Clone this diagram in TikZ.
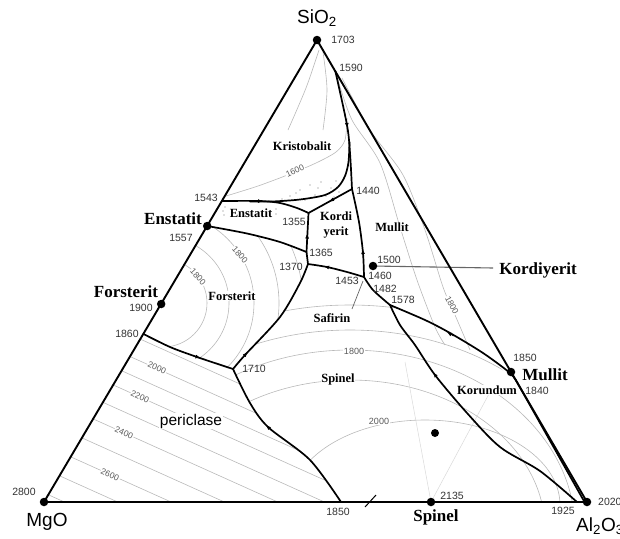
\documentclass[tikz,border=0pt]{standalone}
\usepackage{fontspec}
\setmainfont{Liberation Serif}
\setsansfont{Liberation Sans}
\usetikzlibrary{arrows.meta}

\begin{document}
\begin{tikzpicture}[x=1pt,y=-1pt,
  iso/.style={draw=black!28, line width=0.6pt},
  bnd/.style={draw=black, line width=1.7pt, line join=round, line cap=round},
  tipmark/.style={-{Latex[length=5pt,width=3.8pt]}, line width=0.6pt},
  pdot/.style={circle, fill=black, inner sep=0pt, minimum size=8.5pt},
  bigl/.style={font=\fontsize{17}{20}\selectfont\bfseries, inner sep=0pt},
  fld/.style={font=\fontsize{12.5}{15}\selectfont\bfseries, fill=white, inner sep=0.6pt, align=center},
  tnum/.style={font=\sffamily\fontsize{10.5}{12}\selectfont, text=black!80, inner sep=0pt},
  isolab/.style={font=\sffamily\fontsize{8.5}{10}\selectfont, text=black!65, fill=white, inner sep=0.8pt},
  oxide/.style={font=\sffamily\fontsize{19}{22}\selectfont, inner sep=0pt},
]
\useasboundingbox (0,0) rectangle (620,538);

% ---- corners, invariant points and compounds
\coordinate (SiO2) at (317,40);
\coordinate (MgO) at (44,502);
\coordinate (Al2O3) at (587,502);
\coordinate (p1590) at (335.3,71);
\coordinate (p1440) at (352,189);
\coordinate (p1355) at (308.5,213);
\coordinate (p1365) at (306.5,252);
\coordinate (p1370) at (308,264);
\coordinate (p1460) at (364,277);
\coordinate (p1578) at (390,305);
\coordinate (p1840) at (517.5,383);
\coordinate (p1925) at (577,502);
\coordinate (p1850b) at (341,502);
\coordinate (p1710) at (233,369);
\coordinate (p1860) at (143.5,334);
\coordinate (p1543) at (222,201);
\coordinate (Enst) at (207.2,226);
\coordinate (Fors) at (161.2,304);
\coordinate (Mull) at (511,372);
\coordinate (Spin) at (431,502);
\coordinate (Kord) at (373,266);
\coordinate (Sapp) at (435,433);

% ---- isotherms: periclase field
\begin{scope}
  \clip (p1860) -- (170,347) -- (197,357) -- (p1710) -- (250,403) -- (268,427)
        -- (310,460) -- (p1850b) -- (MgO) -- cycle;
  \foreach \c in {276,298,316,334,356,377,401,425,449,473,497}
    \draw[iso] (0,\c) -- (420,{\c+0.45*420});
\end{scope}

% ---- isotherms: forsterite field
\begin{scope}
  \clip (p1860) -- (Enst) -- (247,233.5) -- (280,242) -- (p1365) -- (p1370)
        -- (300,283) -- (280,317) -- (245,355) -- (p1710) -- (197,357) -- (170,347) -- cycle;
  \foreach \r in {44,66,91,116,140}
    \draw[iso] (163,303) circle [radius=\r pt];
\end{scope}

% ---- isotherms: spinel, sapphirine and corundum fields
\begin{scope}
  \clip (p1710) -- (245,355) -- (280,317) -- (300,283) -- (p1370) -- (327,267)
        -- (347,272) -- (p1460) -- (373,290) -- (p1578) -- (425,320) -- (450,333)
        -- (483,353) -- (p1840) -- (Al2O3) -- (p1850b) -- (310,460) -- (268,427)
        -- (250,403) -- cycle;
  \draw[iso] (350,530) ellipse [x radius=195pt, y radius=150pt];
  \draw[iso] (350,530) ellipse [x radius=225pt, y radius=180pt];
  \draw[iso] (350,530) ellipse [x radius=255pt, y radius=200pt];
  \draw[iso] (350,530) ellipse [x radius=285pt, y radius=225pt];
  \draw[iso] (425,505) ellipse [x radius=135pt, y radius=85pt];
  \draw[draw=black!15, line width=0.5pt] (Spin) -- (405,362);
  \draw[draw=black!15, line width=0.5pt] (Spin) -- (490,392);
\end{scope}

% ---- isotherms: silica and mullite fields
\draw[iso] plot[smooth] coordinates {(226,196) (258,186) (290,174) (316,163) (336,152) (345,140) (347,118)};
\draw[iso] plot[smooth] coordinates {(319,50) (306,88) (288,130)};
\draw[iso] plot[smooth] coordinates {(323,52) (327,90) (323,130)};
\draw[iso] plot[smooth] coordinates {(338,80) (352,120) (380,163) (400,227) (417,280) (435,327) (445,345)};
\draw[iso] plot[smooth] coordinates {(342,78) (370,130) (403,175) (425,230) (443,287) (455,315) (470,350)};

% ---- liquid immiscibility dots
\foreach \p in {(300,190),(310,185),(321,182),(331,188),(315,195),(290,196),(326,196),
                (336,181),(305,200),(282,199),(339,192),(318,188),(296,193),(334,197)}
  \fill[black!55] \p circle [radius=0.6pt];
\foreach \p in {(225,207),(223,211),(224,215),(276,209),(276,214)}
  \fill[black!55] \p circle [radius=0.6pt];

% ---- isotherm labels
\node[isolab, rotate=25] (t1600) at (295,171) {1600};
\node[isolab, rotate=-48] (t1800a) at (240,255) {1800};
\node[isolab, rotate=-48] (t1800b) at (198,277) {1800};
\node[isolab, rotate=-62] (t1800c) at (452,305) {1800};
\node[isolab, font=\sffamily\fontsize{9}{10}\selectfont] (t1800d) at (354,351) {1800};
\node[isolab, font=\sffamily\fontsize{9}{10}\selectfont] (t2000a) at (379,421) {2000};
\node[isolab, rotate=-24] (t2000b) at (157,368) {2000};
\node[isolab, rotate=-24] (t2200) at (140,397) {2200};
\node[isolab, rotate=-24] (t2400) at (124,433) {2400};
\node[isolab, rotate=-24] (t2600) at (110,475) {2600};

% ---- primary field names
\node[fld] (fKris) at (302,146) {Kristobalit};
\node[fld] (fEnst) at (251,213) {Enstatit};
\node[fld] (fKord) at (336,225) {Kordi\\yerit};
\node[fld] (fMull) at (392,227) {Mullit};
\node[fld] (fFors) at (232,296) {Forsterit};
\node[fld] (fSaf) at (332,318) {Safirin};
\node[fld] (fSpin) at (338,379) {Spinel};
\node[fld] (fKor) at (487,390) {Korundum};
\node[font=\sffamily\fontsize{15.5}{18}\selectfont, fill=white, inner sep=0.6pt] (fPer) at (191,421) {periclase};

% ---- leader lines
\coordinate (kordEnd) at (493,268);
\draw[black!60, line width=1.1pt] (Kord) -- (kordEnd);
\coordinate (safA) at (352,309);
\coordinate (safB) at (363,281);
\draw[black!60, line width=0.7pt] (safA) -- (safB);

% ---- triangle
\draw[line width=1.9pt, line join=miter] (MgO) -- (SiO2) -- (Al2O3) -- cycle;
\draw[bnd] (p1840) -- (584.5,502);

% ---- boundary curves
\draw[bnd] plot[smooth] coordinates {(p1590) (347,125) (350,153) (p1440)};
\draw[bnd] plot[smooth] coordinates {(349.5,142) (348.5,162) (345,176) (338,187) (325,195) (300,199.5) (272,201.5) (250,201.5)};
\draw[bnd] plot[smooth] coordinates {(p1460) (363,253) (359,222) (p1440)};
\draw[bnd] (p1440) -- (p1355);
\draw[bnd] plot[smooth] coordinates {(p1543) (260,201) (280,203) (297,208) (p1355)};
\draw[bnd] (p1365) -- (p1355);
\draw[bnd] (p1370) -- (p1365);
\draw[bnd] plot[smooth] coordinates {(Enst) (247,233.5) (280,242) (p1365)};
\draw[bnd] plot[smooth] coordinates {(p1460) (347,272) (327,267) (p1370)};
\draw[bnd] plot[smooth] coordinates {(p1578) (373,290) (p1460)};
\draw[bnd] plot[smooth] coordinates {(p1840) (510,373) (483,353) (450,333) (425,320) (p1578)};
\draw[bnd] plot[smooth] coordinates {(p1925) (540,471) (500,447) (467,413) (435,375) (415,345) (400,325) (p1578)};
\draw[bnd] plot[smooth] coordinates {(p1860) (170,347) (197,357) (p1710)};
\draw[bnd] plot[smooth] coordinates {(p1710) (245,355) (280,317) (300,283) (p1370)};
\draw[bnd] plot[smooth] coordinates {(p1850b) (310,460) (268,427) (250,403) (p1710)};

% ---- arrows along the boundaries, towards falling temperature
\draw[tipmark] (346.3,120) -- (347.5,128);
\draw[tipmark] (363.4,258) -- (362.6,249);
\draw[tipmark] (335,198.4) -- (329,201.7);
\draw[tipmark] (255,201) -- (263,201.2);
\draw[tipmark] (307,241) -- (307.2,233.5);
\draw[tipmark] (331,268) -- (324,266.3);
\draw[tipmark] (453.5,336) -- (447,332);
\draw[tipmark] (437.5,378) -- (433,372.5);
\draw[tipmark] (193,355.6) -- (200.5,358.2);
\draw[tipmark] (243,357.3) -- (247.6,352);
\draw[tipmark] (271.5,430.5) -- (266,425);

% ---- tick on the base
\coordinate (tickA) at (365,507);
\coordinate (tickB) at (376,495);
\draw[line width=1pt] (tickA) -- (tickB);

% ---- compositions
\node[pdot] (dSiO2) at (SiO2) {};
\node[pdot] (dMgO) at (MgO) {};
\node[pdot] (dAl2O3) at (Al2O3) {};
\node[pdot] (dEnst) at (Enst) {};
\node[pdot] (dFors) at (Fors) {};
\node[pdot] (dMull) at (Mull) {};
\node[pdot] (dSpin) at (Spin) {};
\node[pdot] (dKord) at (Kord) {};
\node[pdot, minimum size=8pt] (dSapp) at (Sapp) {};

% ---- temperatures
\node[tnum] (n1703) at (343,40) {1703};
\node[tnum] (n1590) at (351,68) {1590};
\node[tnum] (n1440) at (368,191) {1440};
\node[tnum] (n1355) at (294,222) {1355};
\node[tnum] (n1365) at (321,253) {1365};
\node[tnum] (n1370) at (291,267) {1370};
\node[tnum] (n1500) at (389,260) {1500};
\node[tnum] (n1460) at (380,276) {1460};
\node[tnum] (n1453) at (347,281) {1453};
\node[tnum] (n1482) at (385,289) {1482};
\node[tnum] (n1578) at (403,300) {1578};
\node[tnum] (n1543) at (206,198) {1543};
\node[tnum] (n1557) at (181,238) {1557};
\node[tnum] (n1900) at (141,308) {1900};
\node[tnum] (n1860) at (127,334) {1860};
\node[tnum] (n1710) at (254,369) {1710};
\node[tnum] (n1850a) at (525,358) {1850};
\node[tnum] (n1840) at (537,391) {1840};
\node[tnum] (n2800) at (24,492) {2800};
\node[tnum] (n1850b) at (338,512) {1850};
\node[tnum] (n2135) at (452,496) {2135};
\node[tnum] (n1925) at (563,511) {1925};
\node[tnum, anchor=west] (n2020) at (598,502) {2020};

% ---- compound names
\node[bigl] (lEnst) at (173,219) {Enstatit};
\node[bigl] (lFors) at (126,292) {Forsterit};
\node[bigl] (lKord) at (538,270) {Kordiyerit};
\node[bigl] (lMull) at (545,375) {Mullit};
\node[bigl] (lSpin) at (436,517) {Spinel};

% ---- oxides
\node[oxide] (lSiO2) at (317,18) {SiO\textsubscript{2}};
\node[oxide] (lMgO) at (47,522) {MgO};
\node[oxide, anchor=west] (lAl2O3) at (576,526) {Al\textsubscript{2}O\textsubscript{3}};
\end{tikzpicture}
\end{document}
